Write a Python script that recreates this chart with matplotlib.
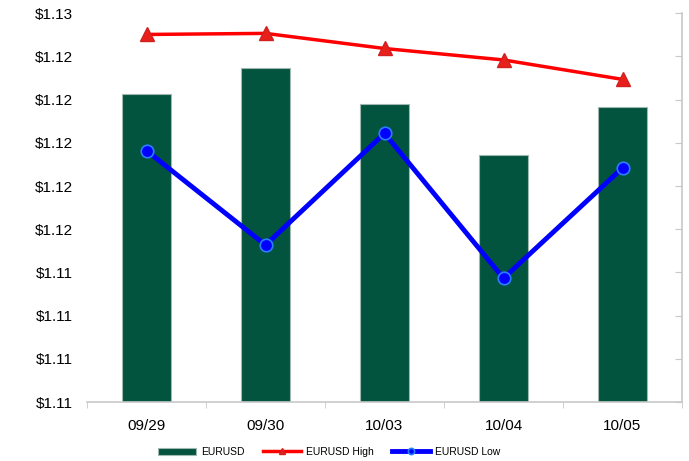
import matplotlib
matplotlib.use("Agg")
import matplotlib.pyplot as plt
import numpy as np
from matplotlib.ticker import FuncFormatter, FixedLocator

plt.rcParams['font.family'] = ['Liberation Sans', 'DejaVu Sans']

dates = ['09/29', '09/30', '10/03', '10/04', '10/05']
eurusd = [1.12225, 1.12348, 1.12181, 1.11943, 1.12166]
eurusd_high = [1.12502, 1.12507, 1.12437, 1.12384, 1.12294]
eurusd_low = [1.11964, 1.11527, 1.12044, 1.11373, 1.11884]
y_ticks = [1.108, 1.110, 1.112, 1.114, 1.116, 1.118, 1.120, 1.122, 1.124, 1.126]

fig = plt.figure(figsize=(6.89, 4.61), dpi=100)
ax = fig.add_axes([87/689, 1 - 402/461, 595/689, (402 - 13.3)/461])

x = np.arange(len(dates))
bars = ax.bar(x, eurusd, width=0.41, bottom=0, color='#03543f',
              edgecolor='#9fb8b0', linewidth=0.8, label='EURUSD', zorder=2)
hi, = ax.plot(x, eurusd_high, color='#ff0000', lw=2.5, marker='^', ms=10,
              mfc='#e8201a', mec='#d02020', label='EURUSD High', zorder=3)
lo, = ax.plot(x, eurusd_low, color='#0000ff', lw=3.5, marker='o', ms=9,
              mfc='#0000ff', mec='#2a7fff', mew=1.2, label='EURUSD Low', zorder=4)

ax.set_xlim(-0.5, len(dates) - 0.5)
ax.set_ylim(y_ticks[0], y_ticks[-1])
ax.yaxis.set_major_locator(FixedLocator(y_ticks))
ax.yaxis.set_major_formatter(FuncFormatter(lambda v, p: '$%.2f' % v))
ax.set_xticks(x)
ax.set_xticklabels(dates)
ax.set_xticks(np.arange(-0.5, len(dates)), minor=True)

ax.spines['left'].set_visible(False)
ax.spines['top'].set_visible(False)
ax.spines['bottom'].set_color('#c8c8c8')
ax.spines['right'].set_color('#c8c8c8')
ax.spines['bottom'].set_linewidth(1.2)
ax.spines['right'].set_linewidth(1.2)

ax.tick_params(axis='y', left=False, right=True, direction='in', length=5,
               color='#c8c8c8', labelsize=11, pad=10, labelright=False)
ax.tick_params(axis='x', which='major', length=0, labelsize=11, pad=12)
ax.tick_params(axis='x', which='minor', length=4, color='#c8c8c8', direction='out')

fig.legend([bars, hi, lo], ['EURUSD', 'EURUSD High', 'EURUSD Low'],
           loc='center', bbox_to_anchor=(0.478, 1 - 452/461),
           ncol=3, frameon=False, fontsize=7.5, handlelength=3.6,
           columnspacing=1.8, handletextpad=0.5, markerscale=0.5)

fig.savefig('out.png', dpi=100)
